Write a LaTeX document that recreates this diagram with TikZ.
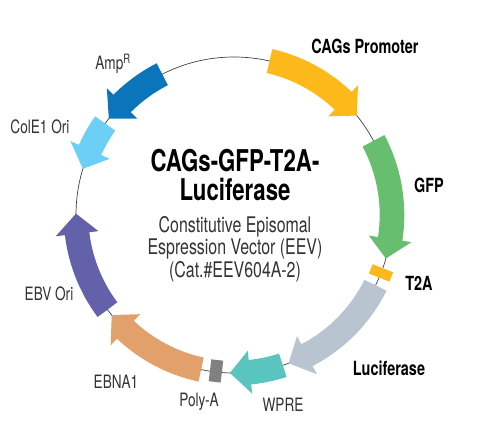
\documentclass[tikz,border=0pt]{standalone}
\usepackage{fontspec}
\setmainfont{TeX Gyre Heros}[FakeStretch=0.74]

\definecolor{cagscol}{HTML}{FCB919}
\definecolor{gfpcol}{HTML}{66BE6E}
\definecolor{luccol}{HTML}{B8C4D0}
\definecolor{wprecol}{HTML}{5AC4BE}
\definecolor{polyacol}{HTML}{808080}
\definecolor{ebnacol}{HTML}{E2A16A}
\definecolor{ebvcol}{HTML}{6261AA}
\definecolor{colecol}{HTML}{6CCFF6}
\definecolor{ampcol}{HTML}{0B75BC}

% #1 tail angle, #2 tip angle, #3 colour
\newcommand{\plasarrow}[3]{%
  \pgfmathsetmacro{\headang}{#2+7.3*sign(#1-#2)}%
  \fill[#3] (#1:170.3) arc[start angle=#1, end angle=\headang, radius=170.3]
    -- (\headang:179.5) -- (#2:158) -- (\headang:136.5) -- (\headang:145.7)
    arc[start angle=\headang, end angle=#1, radius=145.7] -- cycle;}

\begin{document}
\begin{tikzpicture}[x=1pt,y=1pt,
    lbl/.style={font=\fontsize{18.4}{21}\selectfont, text=black!80},
    boldlbl/.style={font=\fontsize{19.5}{22}\selectfont\bfseries}]
        \useasboundingbox (-234,-216) rectangle (253,215);

        \draw[black!75, line width=0.7pt] (0,0) circle[radius=158];

        \plasarrow{77}{39}{cagscol}
        \plasarrow{28}{-16}{gfpcol}
        \plasarrow{-26.4}{-69.8}{luccol}
        \plasarrow{-72}{-91.5}{wprecol}
        \plasarrow{-102}{-140.7}{ebnacol}
        \plasarrow{-143.2}{-180.5}{ebvcol}
        \plasarrow{144.6}{163}{colecol}
        \plasarrow{117}{142.4}{ampcol}

        \node[fill=cagscol, minimum width=22, minimum height=10, inner sep=0, rotate=-21.5] (t2a) at (-21.5:158) {};
        \node[fill=polyacol, minimum width=22, minimum height=12, inner sep=0, rotate=-96.6] (polya) at (-96.6:157) {};

        \node[boldlbl] (cagslbl) at (131,169) {CAGs Promoter};
        \node[lbl] (amplbl) at (-121,151) {Amp\textsuperscript{R}};
        \node[lbl] (colelbl) at (-194,88) {ColE1 Ori};
        \node[boldlbl] (gfplbl) at (195,30) {GFP};
        \node[boldlbl] (t2albl) at (185,-68) {T2A};
        \node[boldlbl] (luclbl) at (155,-153) {Luciferase};
        \node[lbl] (wprelbl) at (49,-190) {WPRE};
        \node[lbl] (polyalbl) at (-35,-187) {Poly-A};
        \node[lbl] (ebnalbl) at (-118,-167) {EBNA1};
        \node[lbl] (ebvlbl) at (-185,-79) {EBV Ori};

        \node[font=\fontsize{30}{30}\selectfont\bfseries] (title1) at (1,54) {CAGs-GFP-T2A-};
        \node[font=\fontsize{30}{30}\selectfont\bfseries] (title2) at (1,26) {Luciferase};
        \node[font=\fontsize{21.5}{22.5}\selectfont, text=black!80, align=center] (sub) at (1,-34)
          {Constitutive Episomal\\Espression Vector (EEV)\\(Cat.\#EEV604A-2)};
      \end{tikzpicture}
\end{document}
